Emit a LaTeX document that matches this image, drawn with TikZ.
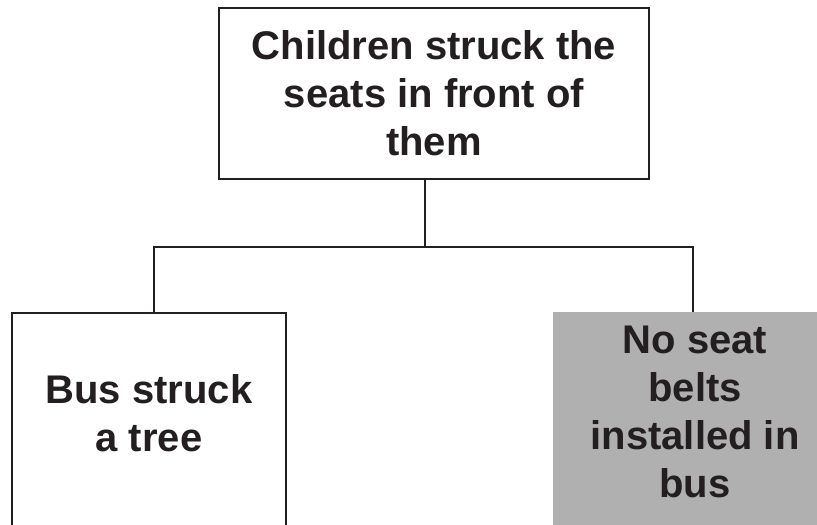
\documentclass[tikz,border=0pt]{standalone}
\usepackage{fontspec}
\setmainfont{Liberation Sans}
\usepackage{tikz}
\usetikzlibrary{calc}
\definecolor{ttqqtt}{rgb}{0.137,0.122,0.125}
\definecolor{bbbbbb}{rgb}{0.69,0.69,0.69}
\tikzstyle{every node}=[font=\bfseries\fontsize{40}{48}\selectfont]

\begin{document}
\begin{tikzpicture}[line cap=butt,line join=miter,x=1pt,y=-1pt,
  causebox/.style={draw=ttqqtt,line width=2pt,inner sep=0pt,align=center,text=ttqqtt},
  greybox/.style={fill=bbbbbb,inner sep=0pt,align=center,text=ttqqtt},
  link/.style={draw=ttqqtt,line width=2pt}]
                \useasboundingbox (0,0) rectangle (817,525);
                \clip (0,0) rectangle (817,525);
                \node [causebox,minimum width=430pt,minimum height=171pt] (top) at (434,93.5) {Children struck the\\seats in front of\\them};
                \node [causebox,minimum width=274pt,minimum height=222pt,text depth=22pt] (tree) at (149,424) {Bus struck\\a tree};
                \node [greybox,minimum width=284pt,minimum height=224pt,text depth=24pt] (belts) at (695,424) {No seat\\belts\\installed in\\bus};
                \coordinate (jtop) at (425,247);
                \coordinate (jtree) at (154,247);
                \coordinate (jbelts) at (693,247);
                \draw [link] (top.south -| jtop) -- (jtop);
                \draw [link] (tree.north -| jtree) -- (jtree) -- (jbelts) -- (belts.north -| jbelts);
            \end{tikzpicture}
\end{document}
